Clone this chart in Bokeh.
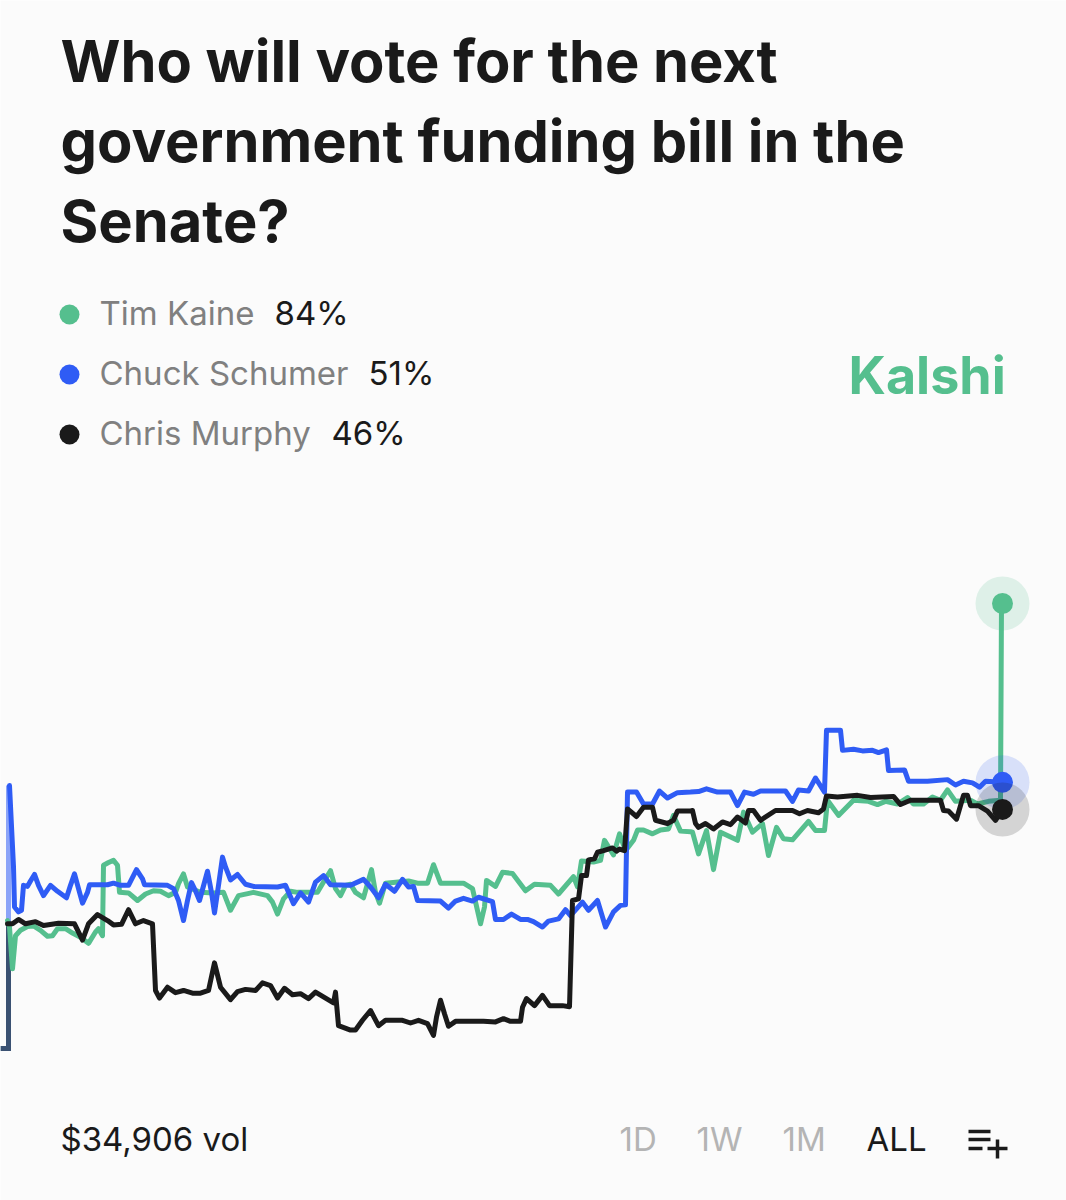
from bokeh.embed import file_html
from bokeh.models import Label, Range1d
from bokeh.plotting import figure
from bokeh.resources import INLINE

# ---- data: (time step, percent) ----
candidates = ["Tim Kaine", "Chuck Schumer", "Chris Murphy"]
latest = [84, 51, 46]
volume = "$34,906 vol"
periods = ["1D", "1W", "1M", "ALL"]

launch_floor = 1.9
launch_t = [0, 8, 8]

kaine = [(7,25.5),(9,24.3),(12,16.6),(15,22.7),(20,23.7),(27,24.4),(33,24.5),(40,23.7),(47,22.6),(52,22.7),(57,24.0),(65,24.0),(72,23.2),(80,22.4),(88,21.3),(95,23.4),(98,24.0),(102,22.7),(103,35.7),(108,36.2),(113,36.6),(117,35.7),(119,30.7),(128,30.6),(137,29.2),(145,30.4),(153,31.0),(160,30.9),(168,30.1),(175,30.7),(178,32.3),(183,34.1),(187,31.7),(200,30.7),(213,30.6),(223,30.7),(230,27.4),(238,30.1),(253,30.7),(267,30.1),(272,28.9),(277,26.7),(283,29.5),(290,30.9),(297,30.7),(317,30.7),(322,32.3),(330,34.7),(335,31.4),(340,30.1),(345,32.0),(350,32.2),
(355,30.7),(363,29.7),(371,34.9),(375,30.7),(379,28.7),(385,32.4),(408,32.8),(417,32.4),(427,32.4),(433,35.8),(440,32.4),(463,32.4),(472,31.4),(480,24.9),(484,28.0),(486,32.9),(495,31.8),(502,34.4),(512,34.2),(525,31.0),(534,32.2),(550,32.0),(558,30.4),(573,33.6),(577,31.7),(581,36.5),(593,36.3),(600,36.6),(604,40.3),(613,37.6),(619,41.5),(625,38.4),(633,40.3),(637,42.2),(643,42.2),(652,41.5),(660,42.2),(668,42.4),(673,44.9),(680,42.0),(690,41.9),
(692,41.8),(698,37.8),(706,42.1),(713,34.9),(720,41.8),(737,40.3),(743,45.5),(752,41.8),(762,43.4),(768,37.5),(776,42.7),(783,40.6),(792,40.4),(808,43.8),(815,42.1),(824,42.1),(827,47.7),(838,44.9),(853,47.7),(868,47.5),(877,46.9),(885,47.5),(897,47.0),(907,48.2),(913,47.0),(923,47.0),(932,48.3),(940,47.7),(947,49.6),(955,47.5),(970,47.7),(977,47.0),(988,47.5),(1000,47.7),(1001,83.9),(1002,84)]

schumer = [(9,50.4),(13,35.4),(14,28.0),(18,27.1),(21,27.4),(23,32.0),(27,31.8),(30,32.8),(34,34.0),(38,32.0),(43,30.1),(50,32.0),(57,30.9),(66,29.7),(70,32.0),(74,34.1),(78,31.4),(82,28.7),(87,30.7),(89,32.1),(107,32.1),(113,32.4),(120,32.0),(128,32.0),(136,34.9),(142,33.2),(144,32.1),(167,32.0),(173,31.4),(178,29.2),(183,25.5),(187,29.2),(191,32.5),(195,31.0),(199,29.2),(207,34.6),(211,30.7),(214,26.9),(218,32.0),(222,37.2),(225,35.4),(230,33.0),(237,34.0),(245,32.2),(253,31.8),(277,31.7),(285,32.0),(293,28.6),(300,30.6),(308,28.9),(315,32.6),(323,33.8),(330,32.1),(350,32.0),
(363,33.1),(370,31.7),(378,29.7),(385,32.2),(394,30.9),(402,33.1),(408,31.7),(413,31.8),(417,29.2),(440,29.1),(448,27.8),(455,29.1),(463,29.6),(472,29.1),(478,29.8),(492,29.0),(495,25.7),(503,25.7),(511,26.7),(520,25.7),(527,25.7),(533,25.3),(542,24.3),(548,25.4),(558,25.8),(565,27.5),(570,26.4),(582,28.9),(588,27.4),(597,29.2),(605,24.3),(613,27.1),(620,28.3),(625,28.4),(627,49.2),(636,49.2),(643,47.0),(652,47.0),(659,49.4),(667,48.1),(677,49.1),(690,49.2),
(698,49.3),(706,49.8),(717,49.2),(730,49.2),(737,46.7),(744,49.2),(753,48.8),(760,49.4),(785,49.4),(792,47.5),(798,49.6),(808,49.4),(815,51.8),(824,49.2),(826,60.6),(840,60.6),(842,56.9),(853,57.1),(862,56.8),(872,56.9),(878,56.5),(886,57.0),(888,53.2),(904,53.3),(908,51.2),(927,51.2),(947,51.5),(955,50.5),(963,51.2),(972,50.9),(979,50.1),(985,51.2),(1002,51)]

murphy = [(7,24.9),(12,24.9),(18,25.7),(25,24.9),(35,25.3),(43,24.6),(58,25.0),(74,24.9),(82,21.9),(88,24.9),(97,26.6),(107,25.5),(113,24.7),(121,24.8),(128,27.5),(135,24.9),(143,25.5),(152,24.9),(155,12.6),(159,11.2),(167,13.2),(175,12.2),(183,12.6),(192,12.1),(200,12.1),(208,12.6),(214,17.7),(220,13.2),(230,10.9),(237,12.4),(245,12.8),(255,12.6),(262,14.0),(270,13.5),(277,11.2),(284,13.0),(292,11.8),(300,12.0),(308,11.1),(315,12.3),(333,10.3),(335,12.3),(338,6.1),(350,5.3),
(355,5.3),(362,7.1),(370,8.9),(378,6.1),(385,7.1),(402,7.1),(410,6.6),(418,7.1),(427,6.5),(433,4.3),(436,7.7),(440,10.8),(444,8.3),(448,6.0),(455,6.9),(483,6.9),(495,6.8),(503,7.4),(510,6.9),(520,6.9),(522,9.5),(526,11.1),(534,9.8),(542,11.7),(549,9.8),(562,9.8),(569,9.6),(572,29.2),(578,29.5),(581,33.8),(586,33.8),(588,36.7),(594,36.9),(597,38.1),(603,38.4),(612,38.9),(616,38.3),(619,38.7),(624,38.4),(627,46.1),(636,44.7),(643,46.4),(652,46.4),(655,44.0),(667,43.4),(673,44.0),(677,45.7),(690,45.7),
(692,45.8),(695,43.4),(698,42.7),(705,43.4),(713,42.4),(722,43.7),(730,43.2),(737,44.6),(745,43.5),(748,45.8),(753,45.8),(760,44.0),(775,45.8),(792,45.8),(799,45.2),(807,45.8),(818,45.4),(823,46.1),(826,48.5),(837,48.3),(857,48.6),(870,48.2),(893,48.4),(900,46.9),(910,47.7),(940,47.7),(943,45.8),(948,45.7),(956,44.2),(963,48.6),(967,48.6),(970,46.7),(978,46.7),(987,45.7),(995,44.0),(1002,46)]

launch_tops = [25.5, 50.4, 25.0]

# ---- styles ----
GREEN, BLUE, INK = "#55BF8E", "#2F5CF5", "#1A1A1A"
colors = [GREEN, BLUE, INK]
PAPER, GREY, PALE = "#FBFBFB", "#808080", "#B4B4B4"
FONT = "Inter"

p = figure(width=1066, height=1200, output_backend="svg", toolbar_location=None,
           x_range=Range1d(0, 1066), y_range=Range1d(-26.15, 195.25),
           background_fill_color=PAPER, border_fill_color=PAPER,
           min_border=0, outline_line_color=None,
           styles={"position": "absolute", "left": "0", "top": "0"})
p.axis.visible = False
p.grid.visible = False
p.extra_x_ranges = {"px": Range1d(0, 1066)}
p.extra_y_ranges = {"px": Range1d(1200, 0)}

def text(x, y, s, size, color=INK, style="normal"):
    p.add_layout(Label(x=x, y=y, x_range_name="px", y_range_name="px", text=s,
                       text_font=FONT, text_font_size=f"{size}px", text_color=color,
                       text_font_style=style, text_baseline="middle", text_align="left"))

# launch segments (translucent, blend to a slate stem)
for top, c in zip(launch_tops, colors):
    p.line(launch_t, [launch_floor, launch_floor, top], line_color=c, line_width=5,
           line_alpha=0.55, line_join="miter")

# series
for series, c in zip([kaine, schumer, murphy], colors):
    p.line([a for a, _ in series], [b for _, b in series], line_color=c,
           line_width=5, line_join="round", line_cap="round")

# end dots
for series, v, c in zip([kaine, schumer, murphy], latest, colors):
    t = series[-1][0]
    p.scatter([t], [v], size=54, fill_color=c, fill_alpha=0.17, line_color=None)
    p.scatter([t], [v], size=21, fill_color=c, line_color=None)

# title
for y, s in zip([60, 140, 220], ["Who will vote for the next",
                                 "government funding bill in the", "Senate?"]):
    text(60, y, s, 57.8, style="bold")

# legend
for y, name, val, vx, c in zip([314, 374, 434], candidates, latest, [274, 368, 331], colors):
    p.scatter([69], [y], x_range_name="px", y_range_name="px", size=20,
              fill_color=c, line_color=None)
    text(99, y - 2, name, 33, GREY)
    text(vx, y - 2, f"{val}%", 33, INK)

text(848, 375, "Kalshi", 52, GREEN, "bold")

# footer
text(60, 1138, volume, 33, INK)
for x, s, c in zip([619, 696, 782, 866], periods, [PALE, PALE, PALE, INK]):
    text(x, 1138, s, 33, c)

# add-to-list icon
p.multi_line([[968, 990], [968, 990], [968, 982], [987, 1007], [997, 997]],
             [[1131, 1131], [1139, 1139], [1148, 1148], [1148, 1148], [1139, 1158]],
             x_range_name="px", y_range_name="px", line_color=INK, line_width=3.5)

open("out.html", "w").write(file_html(p, INLINE))
